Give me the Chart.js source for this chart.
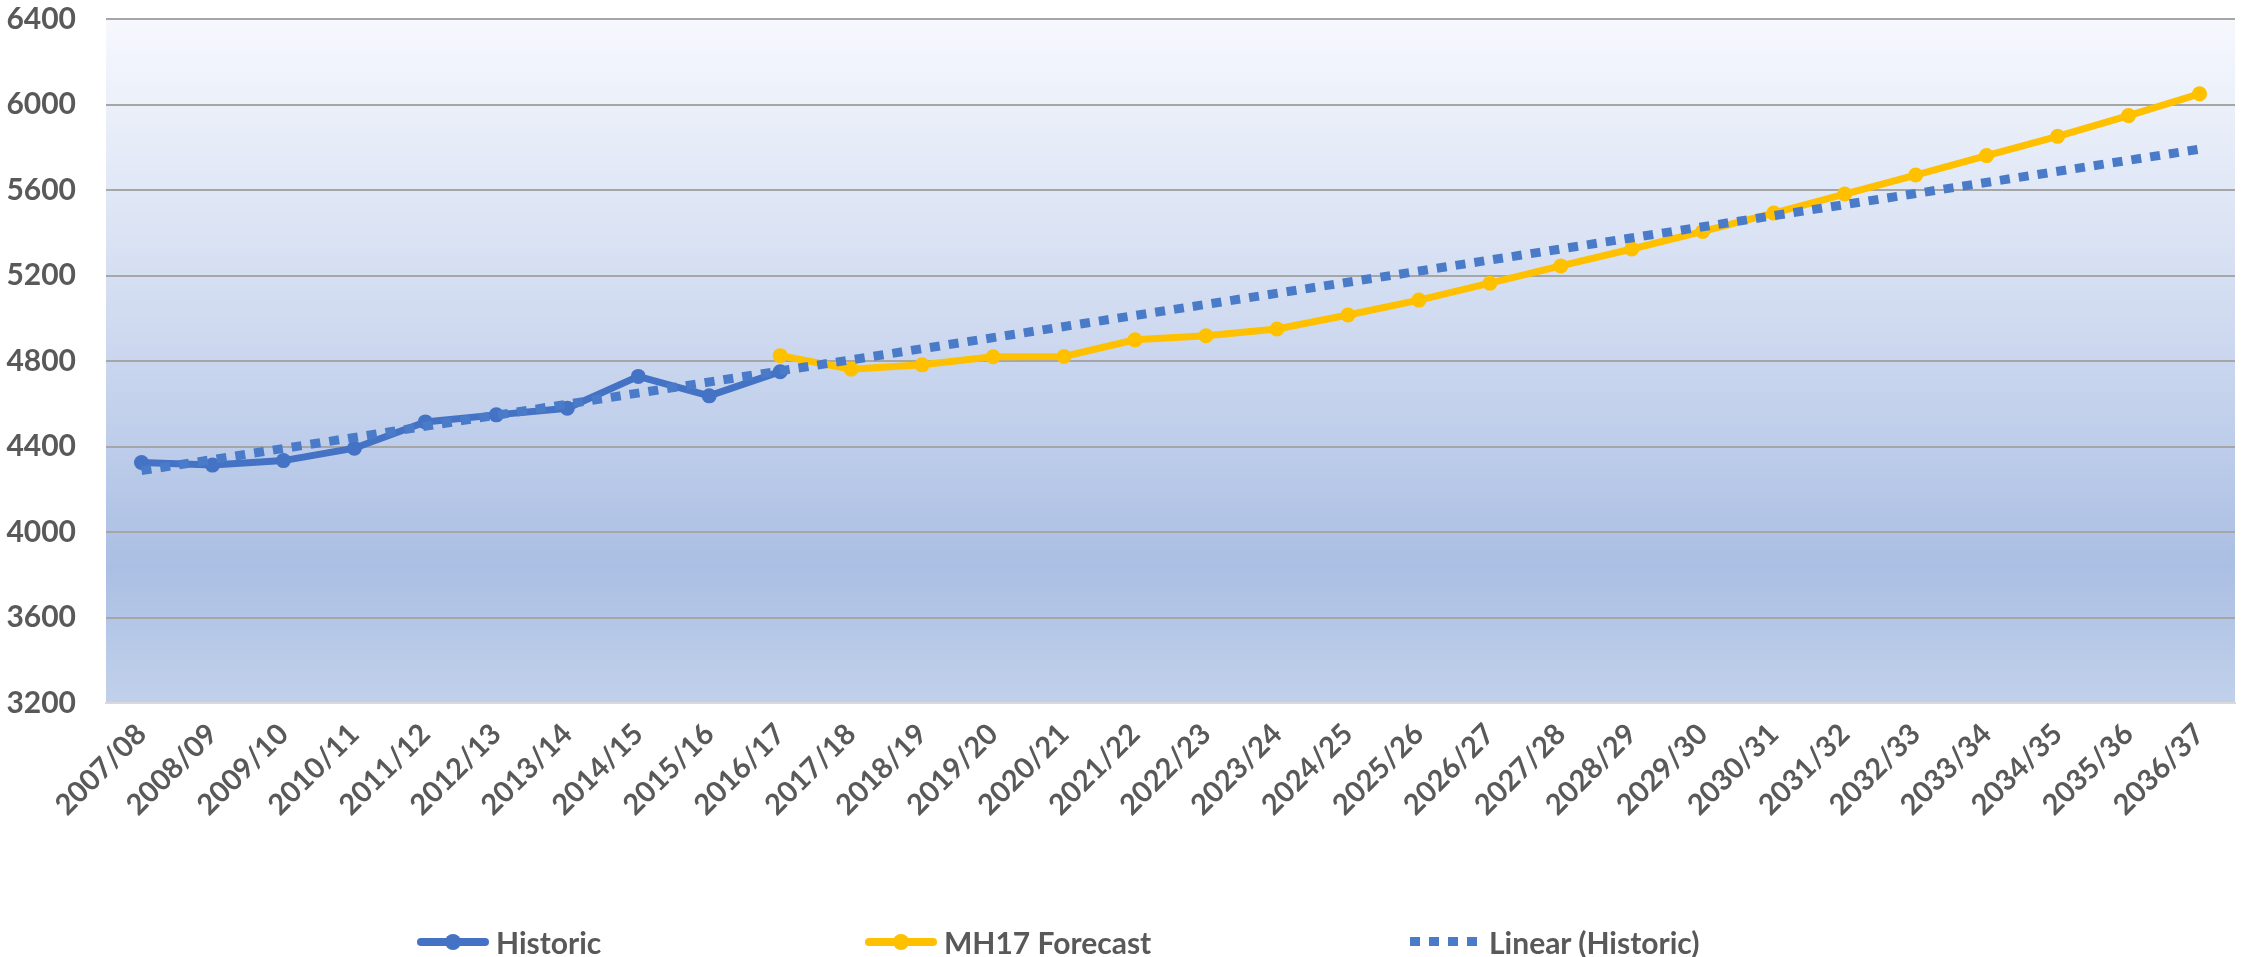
<!DOCTYPE html>
<html>
<head>
<meta charset="utf-8">
<script src="https://cdn.jsdelivr.net/npm/chart.js@4.4.1/dist/chart.umd.min.js"></script>
<style>
  html, body { margin: 0; padding: 0; background: #fff; }
  #wrap { position: relative; width: 2252px; height: 957px; }
  canvas { display: block; }
  .leg { position: absolute; top: 923px; height: 38px; display: flex; align-items: center;
         font: bold 30px Lato, "Open Sans", sans-serif; color: #595959; white-space: nowrap; }
  .leg .key { position: relative; width: 72px; height: 38px; margin-right: 7px; }
  .leg .line { position: absolute; left: 0; right: 0; top: 15px; height: 8px; border-radius: 4px; }
  .leg .dot { position: absolute; left: 28px; top: 11px; width: 16px; height: 16px; border-radius: 50%; }
  .leg .dash { position: absolute; left: 0; right: 0; top: 14px; height: 9px;
               background: repeating-linear-gradient(90deg, #4a7bc8 0 10px, transparent 10px 19px); }
</style>
</head>
<body>
<div id="wrap">
  <canvas id="statistikChart" width="2252" height="957"></canvas>
  <div class="leg" style="left:417px"><span class="key"><span class="line" style="background:#4472c4"></span><span class="dot" style="background:#4472c4"></span></span>Historic</div>
  <div class="leg" style="left:865px"><span class="key"><span class="line" style="background:#ffc000"></span><span class="dot" style="background:#ffc000"></span></span>MH17 Forecast</div>
  <div class="leg" style="left:1410px"><span class="key" style="width:67px;margin-right:12px"><span class="dash"></span></span>Linear (Historic)</div>
</div>
<script>
// data
const years = [
  '2007/08', '2008/09', '2009/10', '2010/11', '2011/12', '2012/13', '2013/14', '2014/15',
  '2015/16', '2016/17', '2017/18', '2018/19', '2019/20', '2020/21', '2021/22', '2022/23',
  '2023/24', '2024/25', '2025/26', '2026/27', '2027/28', '2028/29', '2029/30', '2030/31',
  '2031/32', '2032/33', '2033/34', '2034/35', '2035/36', '2036/37'
];
const historic = [4325, 4313, 4334, 4392, 4515, 4548, 4579, 4728, 4637, 4750];
const forecast = [4825, 4762, 4782, 4820, 4821, 4899, 4918, 4950, 5015, 5085,
  5164, 5245, 5324, 5406, 5492, 5581, 5670, 5761, 5851, 5948, 6050];
// Linear (Historic) trendline: first and last value as drawn
const trendStart = 4287;
const trendEnd = 5791;
const yMin = 3200, yMax = 6400, yStep = 400;

const textColor = '#595959';
const fontFamily = 'Lato, "Open Sans", sans-serif';

// pad the series to the full category list
const historicData = years.map((y, i) => i < historic.length ? historic[i] : null);
const forecastStart = historic.length - 1;
const forecastData = years.map((y, i) => i >= forecastStart ? forecast[i - forecastStart] : null);
const trendData = years.map((y, i) => i === 0 ? trendStart : (i === years.length - 1 ? trendEnd : null));

// Excel style gradient fill behind the plot
const plotBackground = {
  id: 'plotBackground',
  beforeDraw(chart) {
    const { ctx, chartArea: a } = chart;
    const g = ctx.createLinearGradient(0, a.top, 0, a.bottom);
    g.addColorStop(0, '#f6f8fd');
    g.addColorStop(0.45, '#cfdaf0');
    g.addColorStop(0.8, '#abbfe4');
    g.addColorStop(1, '#c1d1eb');
    ctx.save();
    ctx.fillStyle = g;
    ctx.fillRect(a.left, a.top, a.right - a.left, a.bottom - a.top);
    ctx.restore();
  }
};

const el = document.getElementById('statistikChart');
new Chart(el, {
  type: 'line',
  data: {
    labels: years,
    datasets: [
      {
        label: 'Linear (Historic)',
        data: trendData,
        borderColor: '#4a7bc8',
        borderWidth: 9,
        borderDash: [10, 9],
        borderCapStyle: 'butt',
        pointRadius: 0,
        spanGaps: true,
        order: 0
      },
      {
        label: 'Historic',
        data: historicData,
        borderColor: '#4472c4',
        backgroundColor: '#4472c4',
        borderWidth: 7,
        pointRadius: 7.5,
        pointBorderWidth: 0,
        order: 1
      },
      {
        label: 'MH17 Forecast',
        data: forecastData,
        borderColor: '#ffc000',
        backgroundColor: '#ffc000',
        borderWidth: 7,
        pointRadius: 7.5,
        pointBorderWidth: 0,
        order: 2
      }
    ]
  },
  options: {
    responsive: false,
    animation: false,
    devicePixelRatio: 1,
    layout: { padding: { top: 19, right: 17, left: 0, bottom: 0 } },
    plugins: {
      legend: { display: false },
      tooltip: { enabled: false }
    },
    scales: {
      x: {
        offset: true,
        grid: { display: false, drawTicks: false },
        border: { display: true, color: '#d9d9d9', width: 2 },
        ticks: {
          autoSkip: false,
          maxRotation: 45,
          minRotation: 45,
          padding: 14,
          color: textColor,
          font: { family: fontFamily, size: 29, weight: 'bold' }
        },
        afterFit: s => { s.height = 254; s.paddingTop = 0; s.paddingBottom = 0; }
      },
      y: {
        min: yMin,
        max: yMax,
        grid: {
          drawTicks: false,
          lineWidth: 2,
          color: c => (c.tick && c.tick.value === yMin) ? 'rgba(0,0,0,0)' : '#a6a6a6'
        },
        border: { display: false },
        ticks: {
          stepSize: yStep,
          padding: 30,
          color: textColor,
          font: { family: fontFamily, size: 30, weight: 'bold' },
          callback: v => String(v)
        },
        afterFit: s => { s.width = 106; s.paddingTop = 0; s.paddingBottom = 0; }
      }
    }
  },
  plugins: [plotBackground]
});
</script>
</body>
</html>
